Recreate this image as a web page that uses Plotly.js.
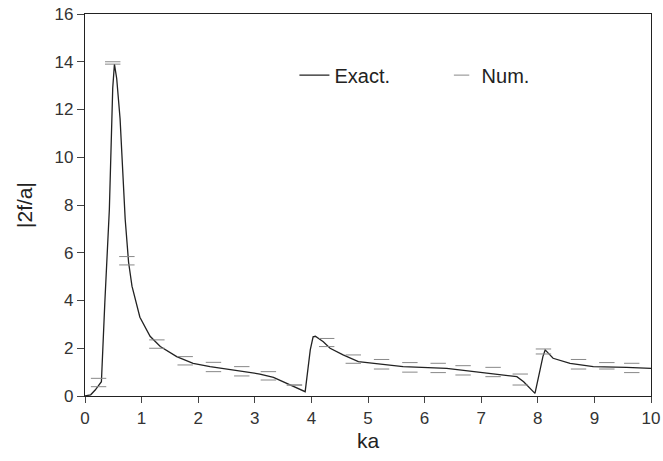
<!DOCTYPE html>
<html>
<head>
<meta charset="utf-8">
<script src="https://cdn.plot.ly/plotly-3.0.1.min.js"></script>
<style>html,body{margin:0;padding:0;background:#fff;}#chart{width:663px;height:461px;}</style>
</head>
<body>
<div id="chart"></div>
<script>
// Exact solution curve
var exactKa = [0, 0.1, 0.18, 0.29, 0.35, 0.43, 0.49, 0.52, 0.56, 0.62, 0.71, 0.77, 0.83, 0.97, 1.15, 1.33, 1.62, 1.91, 2.21, 2.5, 2.8, 3.09, 3.33, 3.56, 3.74, 3.89, 3.98, 4.03, 4.07, 4.21, 4.33, 4.56, 4.83, 5.62, 6.39, 6.92, 7.33, 7.63, 7.75, 7.86, 7.95, 8.04, 8.09, 8.13, 8.27, 8.57, 8.98, 9.57, 10];
var exactVal = [0, 0.05, 0.25, 0.6, 3.9, 7.8, 12.9, 13.9, 13.3, 11.6, 7.4, 5.6, 4.6, 3.3, 2.5, 2.07, 1.65, 1.37, 1.23, 1.13, 1.02, 0.92, 0.78, 0.53, 0.32, 0.18, 1.93, 2.48, 2.5, 2.27, 2.0, 1.72, 1.44, 1.23, 1.16, 1.02, 0.92, 0.81, 0.6, 0.32, 0.11, 1.09, 1.65, 1.93, 1.58, 1.37, 1.23, 1.2, 1.16];

// Numerical results (upper and lower dash of each "=" mark)
var numKa  = [0.24, 0.49, 0.74, 1.27, 1.77, 2.27, 2.77, 3.24, 3.7, 4.27, 4.74, 5.24, 5.74, 6.24, 6.68, 7.21, 7.69, 8.1, 8.72, 9.22, 9.66];
var numHi  = [0.74, 14.0, 5.84, 2.35, 1.65, 1.41, 1.23, 1.02, 0.46, 2.41, 1.72, 1.53, 1.4, 1.37, 1.27, 1.2, 0.92, 1.97, 1.53, 1.4, 1.37];
var numLo  = [0.39, 13.9, 5.49, 2.0, 1.3, 1.02, 0.84, 0.67, 0.46, 2.07, 1.37, 1.13, 1.0, 0.98, 0.88, 0.81, 0.46, 1.76, 1.13, 1.13, 0.98];

var xTicks = [0,1,2,3,4,5,6,7,8,9,10];
var yTicks = [0,2,4,6,8,10,12,14,16];

var numMarker = {symbol: 'line-ew-open', size: 11, color: '#888', line: {color: '#888', width: 1}};

var traces = [
  {x: exactKa, y: exactVal, type: 'scatter', mode: 'lines', name: 'Exact.',
   line: {color: '#222', width: 1.3}},
  {x: numKa, y: numHi, type: 'scatter', mode: 'markers', name: 'Num.', legend: 'legend2',
   marker: numMarker},
  {x: numKa, y: numLo, type: 'scatter', mode: 'markers', name: 'Num.', legend: 'legend2', showlegend: false,
   marker: numMarker}
];

var legFont = {size: 20, color: '#222'};
var layout = {
  width: 663, height: 461,
  margin: {l: 85, r: 12, t: 14, b: 65},
  paper_bgcolor: '#fff', plot_bgcolor: '#fff',
  font: {family: 'Liberation Sans, Arial, sans-serif', color: '#222', size: 17},
  showlegend: true,
  legend: {x: 0.37, y: 0.84, xanchor: 'left', yanchor: 'middle',
           bgcolor: 'rgba(0,0,0,0)', font: legFont},
  legend2: {x: 0.63, y: 0.84, xanchor: 'left', yanchor: 'middle',
           bgcolor: 'rgba(0,0,0,0)', font: legFont},
  xaxis: {range: [0, 10], tickvals: xTicks, ticktext: xTicks.map(String),
          showgrid: false, zeroline: false, showline: true, mirror: true,
          linecolor: '#222', linewidth: 1.2, ticks: 'outside', ticklen: 6, tickcolor: '#444',
          tickfont: {size: 17, color: '#333'},
          title: {text: 'ka', font: {size: 21, color: '#222'}, standoff: 6}},
  yaxis: {range: [0, 16], tickvals: yTicks, ticktext: yTicks.map(String),
          showgrid: false, zeroline: false, showline: true, mirror: true,
          linecolor: '#222', linewidth: 1.2, ticks: 'outside', ticklen: 7, tickcolor: '#444',
          tickfont: {size: 17, color: '#333'},
          title: {text: '|2f/a|', font: {size: 21, color: '#222'}, standoff: 16}}
};

Plotly.newPlot('chart', traces, layout, {displayModeBar: false, staticPlot: true});
</script>
</body>
</html>
